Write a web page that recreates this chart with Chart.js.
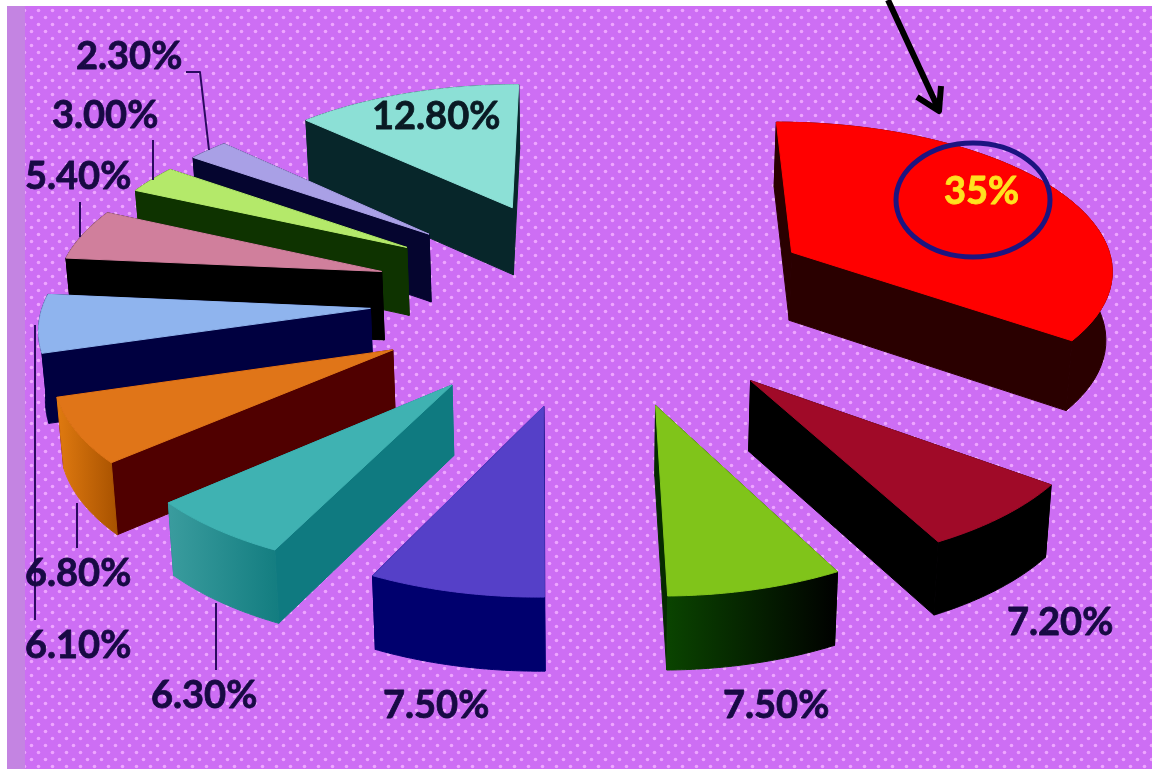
<!DOCTYPE html>
<html>
<head>
<meta charset="utf-8">
<style>
  html, body { margin: 0; padding: 0; background: #fff; }
  canvas { display: block; }
</style>
<script src="https://cdn.jsdelivr.net/npm/chart.js@4"></script>
</head>
<body>
<canvas id="chart" width="1152" height="771"></canvas>
<script>
// slice shares, clockwise from twelve o'clock
const sliceValues = [35, 7.2, 7.5, 7.5, 6.3, 6.8, 6.1, 5.4, 3.0, 2.3, 12.8];
const valueLabels = ["35%", "7.20%", "7.50%", "7.50%", "6.30%", "6.80%", "6.10%", "5.40%", "3.00%", "2.30%", "12.80%"];

const topColors = ["#ff0000", "#a00a28", "#80c41a", "#5540c8", "#3fb2b2", "#e07518", "#8fb4ee", "#d07f9c", "#b4e96a", "#a9a0e6", "#8ce0d6"];
const cutColors = ["#2a0000", "#000000", "#052a00", "#00006e", "#0f7a80", "#500000", "#000040", "#000000", "#0e3300", "#05052f", "#07262a"];
const rimLeft = ["#2a0000", "#000000", "#0a4400", "#00006e", "#3a9c9e", "#e07a10", "#000040", "#000000", "#0e3300", "#05052f", "#07262a"];
const rimRight = ["#2a0000", "#000000", "#000000", "#00006e", "#137d80", "#a85200", "#000040", "#000000", "#0e3300", "#05052f", "#07262a"];

// where each value label goes, same order as the slices (left edge, baseline)
const labelX = [944, 1007, 723, 383, 151, 25, 25, 25, 52, 76, 372];
const labelY = [204, 635, 718, 718, 708, 586, 658, 189, 128, 69, 129];

// projection of the pie plane onto the page
const view = { cx: 596, cy: 298, sx: 0.98, sy: 0.452, distX: 3833, distY: 3538, depth: 69 };

function project(u, v, drop) {
  const wx = 1 / (1 - v / view.distX);
  const wy = 1 / (1 - v / view.distY);
  const shrink = 1 - drop * 0.00018;
  return [
    view.cx + view.sx * u * wx * shrink,
    view.cy + view.sy * v * wy + drop * (1 + v / 7600)
  ];
}

function poly(ctx, pts) {
  ctx.beginPath();
  pts.forEach((p, i) => i ? ctx.lineTo(p[0], p[1]) : ctx.moveTo(p[0], p[1]));
  ctx.closePath();
}

// extruded slices, built from the angles and radii the doughnut controller worked out
const pie3d = {
  id: "pie3d",
  beforeDraw(chart) {
    const ctx = chart.ctx;
    ctx.fillStyle = "#ffffff";
    ctx.fillRect(0, 0, 1152, 771);
    const tile = document.createElement("canvas");
    tile.width = 14;
    tile.height = 14;
    const t = tile.getContext("2d");
    t.fillStyle = "#cd6ef4";
    t.fillRect(0, 0, 14, 14);
    t.fillStyle = "#eea6ff";
    [[3.5, 3.5], [10.5, 10.5]].forEach(d => {
      t.beginPath();
      t.arc(d[0], d[1], 1.8, 0, Math.PI * 2);
      t.fill();
    });
    ctx.fillStyle = ctx.createPattern(tile, "repeat");
    ctx.fillRect(25, 6, 1127, 763);
    ctx.fillStyle = "#c484e2";
    ctx.fillRect(7, 6, 18, 763);
  },
  beforeDatasetDraw(chart) {
    const ctx = chart.ctx;
    const arcs = chart.getDatasetMeta(0).data.map((el, i) => ({ el, i }));
    const midOf = el => (el.startAngle + el.endAngle) / 2;
    arcs.sort((a, b) => Math.sin(midOf(a.el)) - Math.sin(midOf(b.el)));

    arcs.forEach(({ el, i }) => {
      const mid = midOf(el);
      const off = el.options.offset;
      const ax = Math.cos(mid) * off;
      const ay = Math.sin(mid) * off;
      const rim = [];
      const steps = 48;
      for (let s = 0; s <= steps; s++) {
        const a = el.startAngle + (el.endAngle - el.startAngle) * s / steps;
        rim.push([ax + Math.cos(a) * el.outerRadius, ay + Math.sin(a) * el.outerRadius]);
      }
      const top = p => project(p[0], p[1], 0);
      const low = p => project(p[0], p[1], view.depth);
      const apex = [ax, ay];
      const first = rim[0];
      const last = rim[steps];

      const rimPts = rim.map(top).concat(rim.slice().reverse().map(low));
      const xs = rimPts.map(p => p[0]);
      const grad = ctx.createLinearGradient(Math.min(...xs), 0, Math.max(...xs), 0);
      grad.addColorStop(0, rimLeft[i]);
      grad.addColorStop(1, rimRight[i]);

      const walls = [
        { pts: [top(apex), top(first), low(first), low(apex)], fill: cutColors[i] },
        { pts: [top(apex), top(last), low(last), low(apex)], fill: cutColors[i] },
        { pts: rimPts, fill: grad }
      ];
      const meanY = pts => pts.reduce((sum, p) => sum + p[1], 0) / pts.length;
      walls.sort((a, b) => meanY(a.pts) - meanY(b.pts));
      ctx.lineWidth = 1;
      ctx.lineJoin = "round";
      walls.forEach(w => {
        poly(ctx, w.pts);
        ctx.fillStyle = w.fill;
        ctx.strokeStyle = w.fill;
        ctx.fill();
        ctx.stroke();
      });

      poly(ctx, [top(apex)].concat(rim.map(top)));
      ctx.fillStyle = el.options.backgroundColor;
      ctx.strokeStyle = el.options.backgroundColor;
      ctx.fill();
      ctx.stroke();
    });
    return false;
  },
  afterDraw(chart) {
    const ctx = chart.ctx;

    // leader lines
    ctx.strokeStyle = "#2a0a60";
    ctx.lineWidth = 2;
    [
      [[186, 72], [200, 72], [209, 150]],
      [[153, 140], [153, 180]],
      [[80, 202], [80, 237]],
      [[35, 325], [35, 620]],
      [[77, 503], [77, 548]],
      [[216, 603], [216, 670]]
    ].forEach(line => {
      ctx.beginPath();
      line.forEach((p, i) => i ? ctx.lineTo(p[0], p[1]) : ctx.moveTo(p[0], p[1]));
      ctx.stroke();
    });

    // circled share and its arrow
    ctx.strokeStyle = "#1c1480";
    ctx.lineWidth = 5;
    ctx.beginPath();
    ctx.ellipse(973, 200, 77, 57, 0, 0, Math.PI * 2);
    ctx.stroke();

    ctx.strokeStyle = "#000000";
    ctx.lineWidth = 6;
    ctx.beginPath();
    ctx.moveTo(888, 0);
    ctx.lineTo(939, 110);
    ctx.moveTo(917, 97);
    ctx.lineTo(939, 111);
    ctx.lineTo(941, 86);
    ctx.stroke();

    // value labels, thickened a touch with a thin outline
    ctx.textAlign = "left";
    ctx.textBaseline = "alphabetic";
    ctx.font = "bold 38px Lato";
    ctx.lineWidth = 0.8;
    ctx.lineJoin = "round";
    valueLabels.forEach((text, i) => {
      const colour = i === 0 ? "#ffe21f" : i === 10 ? "#0a1a24" : "#180a44";
      ctx.fillStyle = colour;
      ctx.strokeStyle = colour;
      ctx.fillText(text, labelX[i], labelY[i]);
      ctx.strokeText(text, labelX[i], labelY[i]);
    });
  }
};

new Chart(document.getElementById("chart"), {
  type: "pie",
  data: {
    labels: valueLabels,
    datasets: [{
      data: sliceValues,
      backgroundColor: topColors,
      borderWidth: 0,
      offset: 230
    }]
  },
  options: {
    responsive: false,
    animation: false,
    radius: 333,
    events: [],
    plugins: { legend: { display: false }, tooltip: { enabled: false } }
  },
  plugins: [pie3d]
});
</script>
</body>
</html>
